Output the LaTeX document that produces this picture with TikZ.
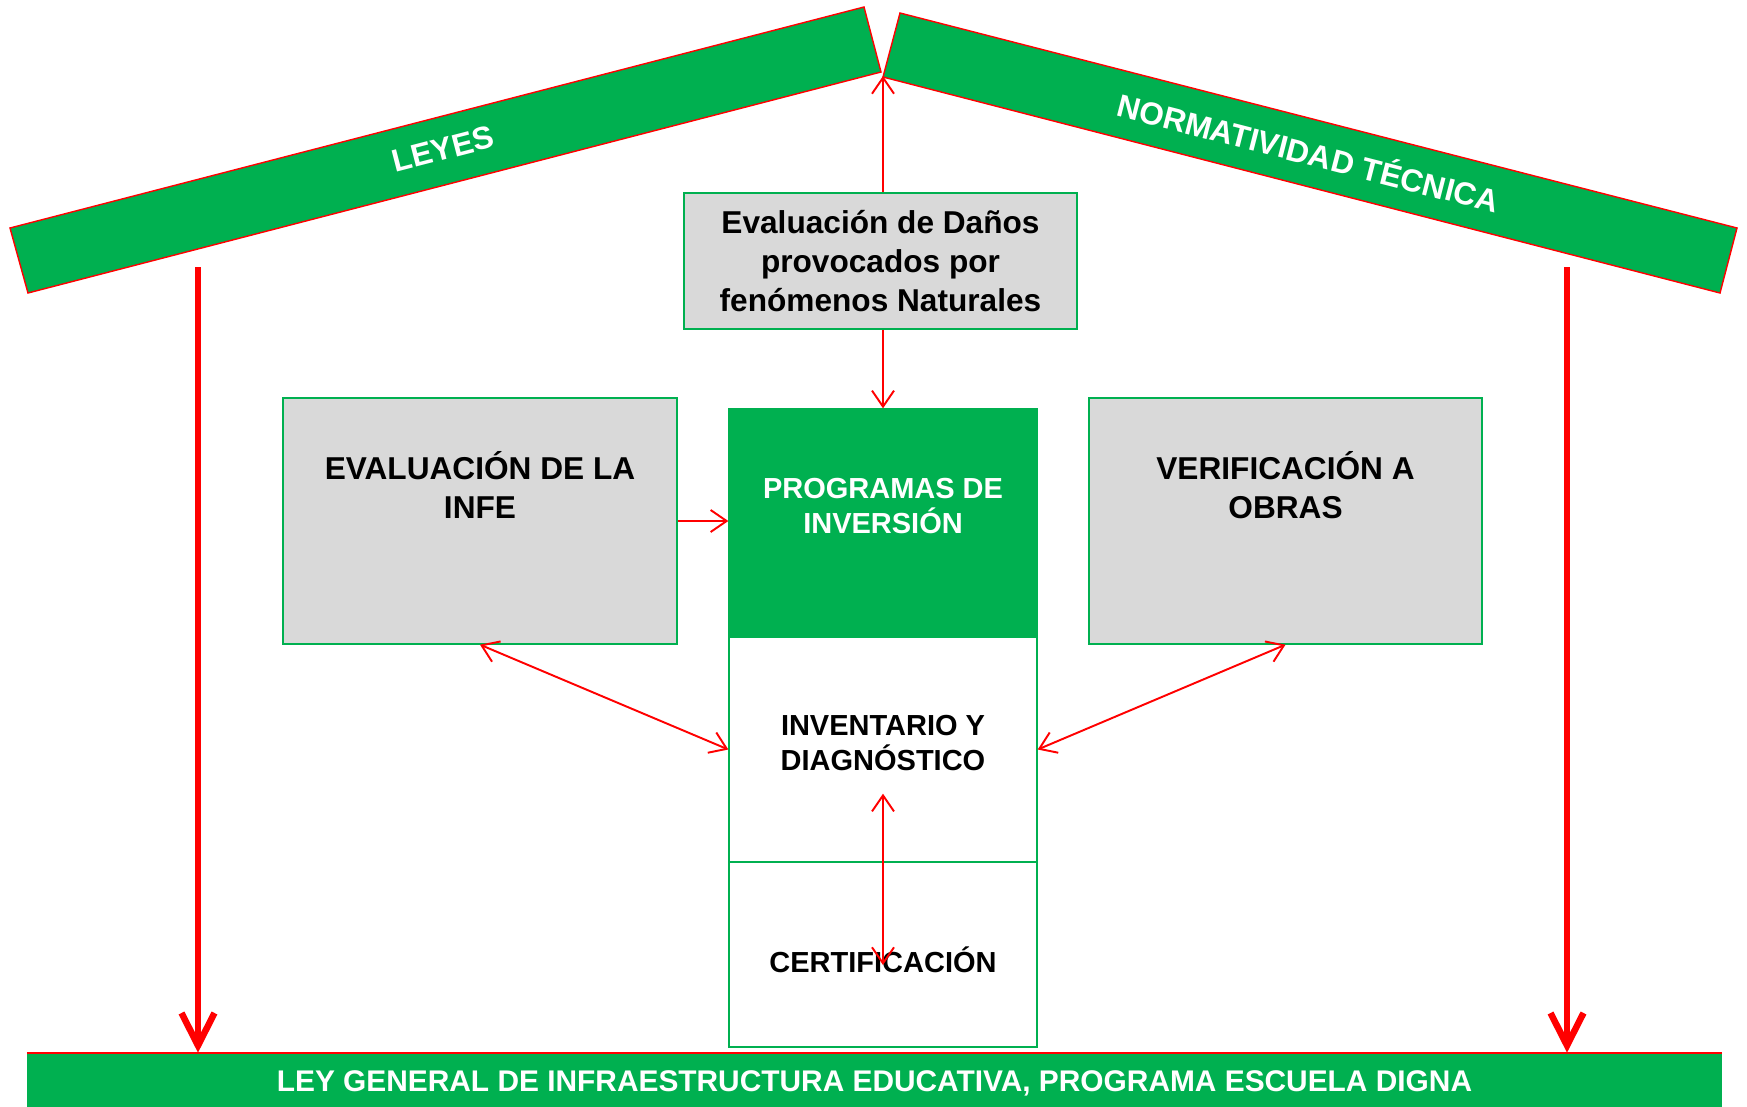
\documentclass[tikz,border=0pt]{standalone}
\usepackage{fontspec}
\setmainfont{Liberation Sans}
\usetikzlibrary{arrows.meta,calc}
\definecolor{roofgreen}{HTML}{00B050}
\definecolor{boxgray}{HTML}{D9D9D9}
\definecolor{linkred}{HTML}{FF0000}
\begin{document}
\begin{tikzpicture}[x=0.02cm,y=-0.02cm,
    graybox/.style={draw=roofgreen,fill=boxgray,line width=0.8pt,inner sep=0pt},
    whitebox/.style={draw=roofgreen,fill=white,line width=0.8pt,inner sep=0pt,minimum width=6.16cm},
    boxtext/.style={align=center,font=\fontsize{18}{22}\selectfont\bfseries},
    coltext/.style={align=center,font=\fontsize{16.5}{19.6}\selectfont\bfseries},
    rooftext/.style={text=white,font=\fontsize{18}{22}\selectfont\bfseries},
    link/.style={draw=linkred,line width=1.1pt,-{Straight Barb[length=3.2mm,width=4.4mm]}},
    twolink/.style={link,{Straight Barb[length=3.2mm,width=4.4mm]}-{Straight Barb[length=3.2mm,width=4.4mm]}},
    bigarrow/.style={draw=linkred,line width=3.7pt,-{Straight Barb[length=6.5mm,width=6.6mm]}}]
  \useasboundingbox (0,0) rectangle (1747,1106);
  % roof
  \filldraw[fill=roofgreen,draw=linkred,line width=0.8pt] (10,228) -- (28,293) -- (881,72) -- (864,7) -- cycle;
  \filldraw[fill=roofgreen,draw=linkred,line width=0.8pt] (900,13) -- (883,77) -- (1720,293) -- (1737,228) -- cycle;
  \coordinate (tip) at (883,76);
  \node[rooftext,rotate=14.5] (leyes) at (443,149) {LEYES};
  \node[rooftext,rotate=-14.4] (norma) at (1309,151) {NORMATIVIDAD TÉCNICA};
  % boxes
  \node[graybox,boxtext,minimum width=7.86cm,minimum height=2.72cm] (dano) at (880.5,261) {Evaluación de Daños\\provocados por\\fenómenos Naturales};
  \node[graybox,minimum width=7.88cm,minimum height=4.92cm] (infe) at (480,521) {};
  \node[boxtext] (infetxt) at (480,485) {EVALUACIÓN DE LA\\INFE};
  \node[graybox,minimum width=7.86cm,minimum height=4.92cm] (verif) at (1285.5,521) {};
  \node[boxtext] (veriftxt) at (1285.5,485) {VERIFICACIÓN A\\OBRAS};
  \node[whitebox,fill=roofgreen,draw=roofgreen,minimum height=4.56cm] (prog) at (883,523) {};
  \node[coltext,text=white] (progtxt) at (883,506) {PROGRAMAS DE\\INVERSIÓN};
  \node[whitebox,minimum height=4.5cm] (inv) at (883,749.5) {};
  \node[coltext] (invtxt) at (883,743) {INVENTARIO Y\\DIAGNÓSTICO};
  \node[whitebox,minimum height=3.7cm] (cert) at (883,954.5) {};
  \node[coltext] (certtxt) at (883,960) {CERTIFICACIÓN};
  % base
  \node[fill=roofgreen,minimum width=33.9cm,minimum height=1.2cm,inner sep=0pt,text=white,
        font=\fontsize{17}{20}\selectfont\bfseries] (ley) at (874.5,1083)
        {LEY GENERAL DE INFRAESTRUCTURA EDUCATIVA, PROGRAMA ESCUELA DIGNA};
  \draw[linkred,line width=1pt] (ley.north west) -- (ley.north east);
  % arrows
  \coordinate (leftlaw) at (198,267);
  \coordinate (rightlaw) at (1567,267);
  \draw[bigarrow] (leftlaw) -- (leftlaw |- ley.north);
  \draw[bigarrow] (rightlaw) -- (rightlaw |- ley.north);
  \draw[link] (tip |- dano.north) -- (tip);
  \draw[link] (prog.north |- dano.south) -- (prog.north);
  \draw[link] (infe.east) -- (infe.east -| prog.west);
  \draw[twolink] (infe.south) -- (inv.west);
  \draw[twolink] (verif.south) -- (inv.east);
  \draw[twolink] ($(invtxt.south)+(0,17)$) -- ($(certtxt.center)+(0,5)$);
\end{tikzpicture}
\end{document}
